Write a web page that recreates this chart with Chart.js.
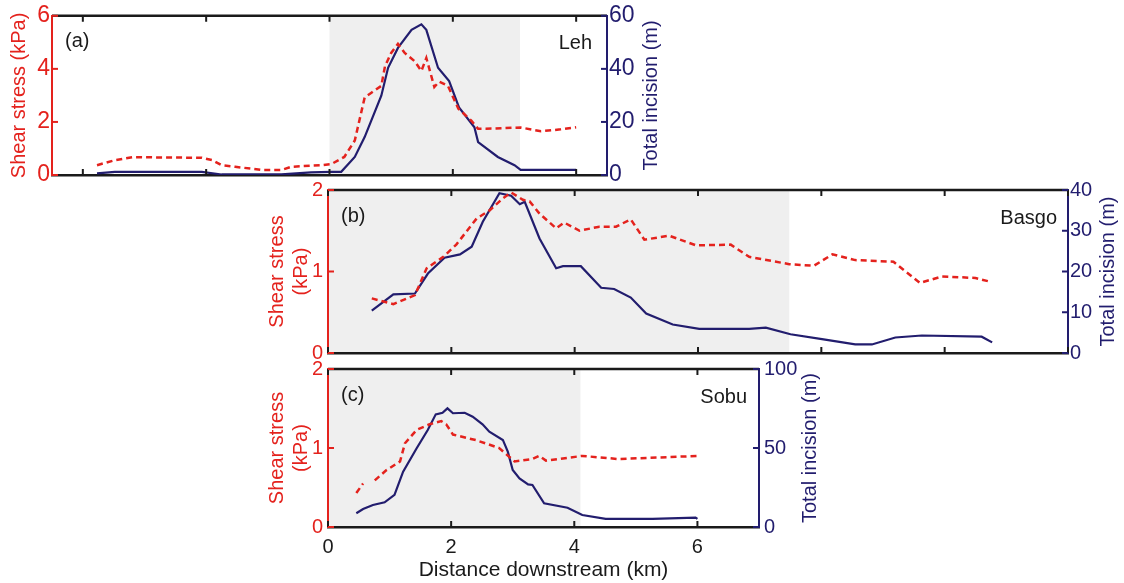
<!DOCTYPE html>
<html>
<head>
<meta charset="utf-8">
<script src="https://cdn.jsdelivr.net/npm/chart.js@4.4.0/dist/chart.umd.min.js"></script>
<style>
  body { margin: 0; background: #fff; }
  #wrap { position: relative; width: 1124px; height: 583px; }
  canvas { position: absolute; left: 0; top: 0; }
</style>
</head>
<body>
<div id="wrap">
  <canvas id="lehChart" width="1124" height="583"></canvas>
  <canvas id="basgoChart" width="1124" height="583"></canvas>
  <canvas id="sobuChart" width="1124" height="583"></canvas>
</div>
<script>
var RED = '#e4221d';
var NAVY = '#221d6e';
var INK = '#1a1a1a';
var FONT = '"Liberation Sans", Arial, sans-serif';

// (a) Leh
var lehStressKm = [-3.77, -3.48, -3.2, -2.07, -1.9, -1.75, -1.53, -1.1, -0.78, -0.62, -0.13, 0.03, 0.24, 0.41, 0.57, 0.68, 0.84, 0.9, 1.0, 1.11, 1.22, 1.38, 1.49, 1.57, 1.7, 1.78, 1.92, 2.09, 2.3, 2.41, 2.67, 3.1, 3.43, 3.75, 4.0];
var lehStress = [0.37, 0.56, 0.67, 0.65, 0.56, 0.37, 0.31, 0.19, 0.19, 0.31, 0.37, 0.41, 0.68, 1.3, 2.92, 3.1, 3.36, 4.1, 4.6, 4.94, 4.6, 4.29, 3.92, 4.41, 3.32, 3.52, 3.36, 2.5, 2.05, 1.74, 1.75, 1.79, 1.65, 1.72, 1.8];
var lehIncisionKm = [-3.77, -3.48, -2.07, -1.75, -0.78, -0.3, 0.03, 0.19, 0.41, 0.57, 0.84, 0.95, 1.11, 1.33, 1.49, 1.57, 1.76, 1.94, 2.1, 2.35, 2.41, 2.73, 3.0, 3.1, 4.0];
var lehIncision = [0.6, 1.2, 1.2, 0.2, 0.2, 1.0, 1.2, 1.2, 6.8, 14.3, 29.9, 40.4, 47.9, 54.7, 56.8, 54.7, 40.4, 35.4, 25.5, 18.0, 12.4, 6.8, 3.7, 1.9, 1.9];
var lehShadeEnd = 3.09;

// (b) Basgo
var basgoStressKm = [0.71, 1.06, 1.41, 1.6, 1.87, 2.08, 2.41, 2.62, 2.84, 2.97, 3.16, 3.27, 3.43, 3.7, 3.83, 4.08, 4.4, 4.67, 4.91, 5.13, 5.53, 5.97, 6.53, 6.83, 7.48, 7.88, 8.18, 8.55, 9.17, 9.6, 9.96, 10.5, 10.76];
var basgoStress = [0.67, 0.6, 0.71, 1.04, 1.18, 1.33, 1.65, 1.75, 1.9, 1.97, 1.88, 1.86, 1.71, 1.53, 1.6, 1.5, 1.55, 1.55, 1.64, 1.39, 1.44, 1.32, 1.33, 1.18, 1.09, 1.07, 1.21, 1.14, 1.12, 0.86, 0.94, 0.92, 0.87];
var basgoIncisionKm = [0.71, 1.06, 1.41, 1.62, 1.89, 2.14, 2.33, 2.51, 2.78, 2.97, 3.11, 3.19, 3.43, 3.7, 3.81, 4.1, 4.43, 4.64, 4.91, 5.16, 5.59, 6.02, 6.83, 7.1, 7.5, 8.01, 8.55, 8.82, 9.2, 9.63, 10.6, 10.77];
var basgoIncision = [10.4, 14.4, 14.6, 19.5, 23.4, 24.2, 26.1, 32.2, 39.2, 38.6, 36.5, 37.1, 28.1, 20.8, 21.3, 21.3, 16.0, 15.7, 13.6, 9.7, 7.0, 5.9, 5.9, 6.2, 4.6, 3.4, 2.1, 2.1, 3.8, 4.3, 4.0, 2.6];
var basgoShadeEnd = 7.48;

// (c) Sobu  (null = gap in the stress profile)
var sobuStressKm = [0.46, 0.57, 0.66, 0.76, 0.95, 1.17, 1.25, 1.44, 1.65, 1.84, 1.92, 2.03, 2.4, 2.78, 3.03, 3.32, 3.43, 3.54, 4.13, 4.72, 6.02];
var sobuStress = [0.43, 0.55, null, 0.59, 0.72, 0.83, 1.06, 1.23, 1.3, 1.34, 1.3, 1.17, 1.1, 1.0, 0.83, 0.86, 0.9, 0.84, 0.9, 0.86, 0.9];
var sobuIncisionKm = [0.46, 0.57, 0.73, 0.92, 1.08, 1.22, 1.44, 1.62, 1.75, 1.86, 1.94, 2.03, 2.22, 2.35, 2.51, 2.62, 2.84, 2.92, 3.0, 3.11, 3.25, 3.32, 3.51, 3.89, 4.13, 4.51, 5.27, 5.97, 6.0];
var sobuIncision = [8.7, 11.4, 13.9, 15.6, 20.3, 35.0, 49.8, 61.4, 71.3, 72.3, 75.1, 72.0, 72.3, 69.8, 65.0, 60.3, 55.1, 47.7, 36.1, 30.8, 27.0, 26.6, 15.0, 12.2, 7.6, 5.1, 5.1, 5.9, 5.1];
var sobuShadeEnd = 4.1;

Chart.defaults.font.family = FONT;
Chart.defaults.font.size = 20;
Chart.defaults.color = INK;

function toPoints(xs, ys) {
  return xs.map(function(x, i) { return { x: x, y: ys[i] }; });
}

// shading, top frame, inward ticks, right-hand title and panel labels
var panelPlugin = {
  id: 'panel',
  beforeDraw: function(chart, args, opts) {
    var ctx = chart.ctx, area = chart.chartArea, x = chart.scales.x;
    var x0 = Math.max(area.left, x.getPixelForValue(0));
    var x1 = x.getPixelForValue(opts.shadeEnd);
    ctx.save();
    ctx.fillStyle = '#efefef';
    ctx.fillRect(x0, area.top, x1 - x0, area.bottom - area.top);
    ctx.restore();
  },
  afterDraw: function(chart, args, opts) {
    var ctx = chart.ctx, area = chart.chartArea;
    var x = chart.scales.x, yl = chart.scales.y, yr = chart.scales.y1;
    var len = 6;
    ctx.save();
    ctx.strokeStyle = INK;
    ctx.lineWidth = 2.5;
    ctx.beginPath();
    ctx.moveTo(area.left, area.top);
    ctx.lineTo(area.right, area.top);
    ctx.stroke();

    ctx.lineWidth = 2;
    x.ticks.forEach(function(t) {
      var px = x.getPixelForValue(t.value);
      ctx.beginPath();
      ctx.moveTo(px, area.top); ctx.lineTo(px, area.top + len);
      ctx.moveTo(px, area.bottom); ctx.lineTo(px, area.bottom - len);
      ctx.stroke();
    });
    ctx.strokeStyle = RED;
    yl.ticks.forEach(function(t) {
      var py = yl.getPixelForValue(t.value);
      ctx.beginPath();
      ctx.moveTo(area.left, py); ctx.lineTo(area.left + len, py);
      ctx.stroke();
    });
    ctx.strokeStyle = NAVY;
    yr.ticks.forEach(function(t) {
      var py = yr.getPixelForValue(t.value);
      ctx.beginPath();
      ctx.moveTo(area.right, py); ctx.lineTo(area.right - len, py);
      ctx.stroke();
    });

    ctx.font = '20px ' + FONT;
    ctx.textBaseline = 'middle';

    // right axis title reads bottom-to-top like the left one
    ctx.save();
    ctx.fillStyle = NAVY;
    ctx.textAlign = 'center';
    ctx.translate(area.right + opts.rightTitleDx, (area.top + area.bottom) / 2);
    ctx.rotate(-Math.PI / 2);
    ctx.fillText('Total incision (m)', 0, 0);
    ctx.restore();

    ctx.fillStyle = INK;
    ctx.textAlign = 'left';
    ctx.fillText(opts.tag, area.left + 13, area.top + 26);
    ctx.textAlign = 'right';
    ctx.fillText(opts.name, area.right - opts.nameInset, area.top + 28);
    ctx.restore();
  }
};

function makePanel(canvasId, p) {
  var ctx = document.getElementById(canvasId).getContext('2d');
  return new Chart(ctx, {
    type: 'line',
    data: {
      datasets: [{
        label: 'Shear stress',
        data: toPoints(p.stressKm, p.stress),
        yAxisID: 'y',
        borderColor: RED,
        borderWidth: 2.5,
        borderDash: [6, 4],
        pointRadius: 0,
        spanGaps: false,
        tension: 0
      }, {
        label: 'Total incision',
        data: toPoints(p.incKm, p.inc),
        yAxisID: 'y1',
        borderColor: NAVY,
        borderWidth: 2.2,
        pointRadius: 0,
        tension: 0
      }]
    },
    options: {
      responsive: false,
      animation: false,
      events: [],
      layout: { padding: p.padding },
      plugins: {
        legend: { display: false },
        tooltip: { enabled: false },
        panel: {
          shadeEnd: p.shadeEnd, tag: p.tag, name: p.name,
          nameInset: p.nameInset, rightTitleDx: p.rightTitleDx
        }
      },
      scales: {
        x: {
          type: 'linear',
          min: p.xMin,
          max: p.xMax,
          grid: { display: false, drawTicks: false },
          border: { display: true, color: INK, width: 2.5 },
          ticks: { display: p.showX, stepSize: 2, includeBounds: false, padding: 8, maxRotation: 0, color: INK },
          title: {
            display: p.showX,
            text: 'Distance downstream (km)',
            color: INK,
            font: { size: 21 },
            padding: { top: 0, bottom: 0 }
          },
          afterFit: function(s) { s.height = p.xHeight; }
        },
        y: {
          position: 'left',
          min: 0,
          max: p.stressMax,
          grid: { display: false, drawTicks: false },
          border: { display: true, color: RED, width: 2 },
          ticks: { stepSize: p.stressStep, color: RED, padding: p.leftPad, font: { size: p.tickSize } },
          title: {
            display: true,
            text: p.stressTitle,
            color: RED,
            padding: { top: p.leftTitlePad, bottom: 0 }
          },
          afterFit: function(s) { s.width = p.leftWidth; }
        },
        y1: {
          position: 'right',
          min: 0,
          max: p.incMax,
          grid: { display: false, drawTicks: false },
          border: { display: true, color: NAVY, width: 2 },
          ticks: { stepSize: p.incStep, color: NAVY, padding: p.rightPad, font: { size: p.tickSize } },
          title: { display: false },
          afterFit: function(s) { s.width = p.rightWidth; }
        }
      }
    },
    plugins: [panelPlugin]
  });
}

makePanel('lehChart', {
  stressKm: lehStressKm, stress: lehStress, incKm: lehIncisionKm, inc: lehIncision,
  shadeEnd: lehShadeEnd, tag: '(a)', name: 'Leh', nameInset: 15,
  xMin: -4.5, xMax: 4.5, showX: false, xHeight: 10, tickSize: 23,
  stressMax: 6, stressStep: 2, incMax: 60, incStep: 20,
  stressTitle: 'Shear stress (kPa)', leftTitlePad: 7,
  leftWidth: 52, rightWidth: 58, leftPad: 2, rightPad: 2, rightTitleDx: 44,
  padding: { left: 0, right: 459, top: 14, bottom: 398 }
});

makePanel('basgoChart', {
  stressKm: basgoStressKm, stress: basgoStress, incKm: basgoIncisionKm, inc: basgoIncision,
  shadeEnd: basgoShadeEnd, tag: '(b)', name: 'Basgo', nameInset: 11,
  xMin: 0, xMax: 12, showX: false, xHeight: 10, tickSize: 20,
  stressMax: 2, stressStep: 1, incMax: 40, incStep: 10,
  stressTitle: ['Shear stress', '(kPa)'], leftTitlePad: 0,
  leftWidth: 63, rightWidth: 54, leftPad: 5, rightPad: 2, rightTitleDx: 40,
  padding: { left: 265, right: 2, top: 190, bottom: 220 }
});

makePanel('sobuChart', {
  stressKm: sobuStressKm, stress: sobuStress, incKm: sobuIncisionKm, inc: sobuIncision,
  shadeEnd: sobuShadeEnd, tag: '(c)', name: 'Sobu', nameInset: 12,
  xMin: 0, xMax: 7, showX: true, xHeight: 56, tickSize: 20,
  stressMax: 2, stressStep: 1, incMax: 100, incStep: 50,
  stressTitle: ['Shear stress', '(kPa)'], leftTitlePad: 0,
  leftWidth: 63, rightWidth: 65, leftPad: 5, rightPad: 5, rightTitleDx: 51,
  padding: { left: 265, right: 300, top: 369, bottom: 0 }
});
</script>
</body>
</html>
